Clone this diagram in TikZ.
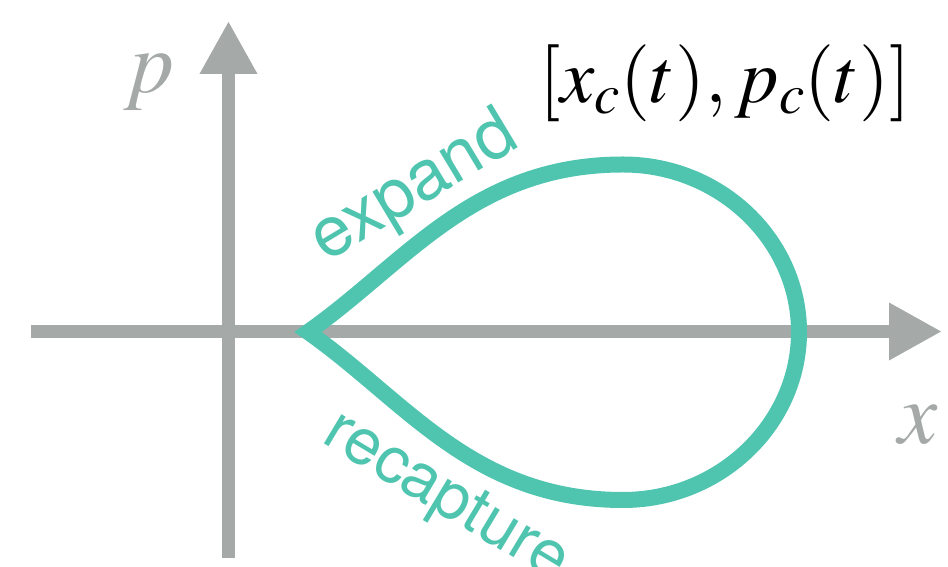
\documentclass[tikz,border=0pt]{standalone}
\usepackage{mathptmx}
\usepackage{fontspec}
\setsansfont{TeX Gyre Heros}
\usetikzlibrary{arrows.meta}
\definecolor{axisgray}{HTML}{A5A9A7}
\definecolor{teal}{HTML}{4FC5B0}

\begin{document}
\begin{tikzpicture}[
  x=1pt, y=1pt,
  axisline/.style={draw=axisgray, line width=13pt, -{Triangle[length=53pt, width=54pt]}},
  orbitline/.style={draw=teal, line width=16pt, line join=miter},
  lbl/.style={text=teal, font=\fontsize{70}{70}\sffamily, anchor=base, inner sep=0pt},
  var/.style={text=axisgray, font=\fontsize{88}{88}\selectfont, inner sep=0pt}
]
  \useasboundingbox (0,0) rectangle (948,567);

  % axes
  \coordinate (xstart) at (31,235.5);
  \coordinate (xend) at (942,235.5);
  \coordinate (pstart) at (228.5,9);
  \coordinate (pend) at (228.5,546);
  \draw[axisline] (xstart) -- (xend);
  \draw[axisline] (pstart) -- (pend);
  \node[var] (plabel) at (149,485) {$p$};
  \node[var] (xlabel) at (918,142) {$x$};

  % orbit
  \coordinate (cusp) at (308,235);
  \coordinate (ctop) at (623,402.5);
  \coordinate (cright) at (799,235);
  \coordinate (cbot) at (623,67);
  \draw[orbitline] (ctop) .. controls (720,402.5) and (799,327) .. (cright)
    .. controls (799,143) and (720,67) .. (cbot)
    .. controls (473,67) and (406,166) .. (cusp)
    .. controls (406,304) and (473,402.5) .. cycle;

  \node[lbl, rotate=31] (expandlbl) at (424,363) {expand};
  \node[lbl, font=\fontsize{65}{65}\sffamily, rotate=-31] (recaplbl) at (437,55) {recapture};
  \node[font=\fontsize{77}{77}\selectfont, inner sep=0pt] (statelbl) at (725,484) {$[x_c(t),p_c(t)]$};
\end{tikzpicture}
\end{document}
